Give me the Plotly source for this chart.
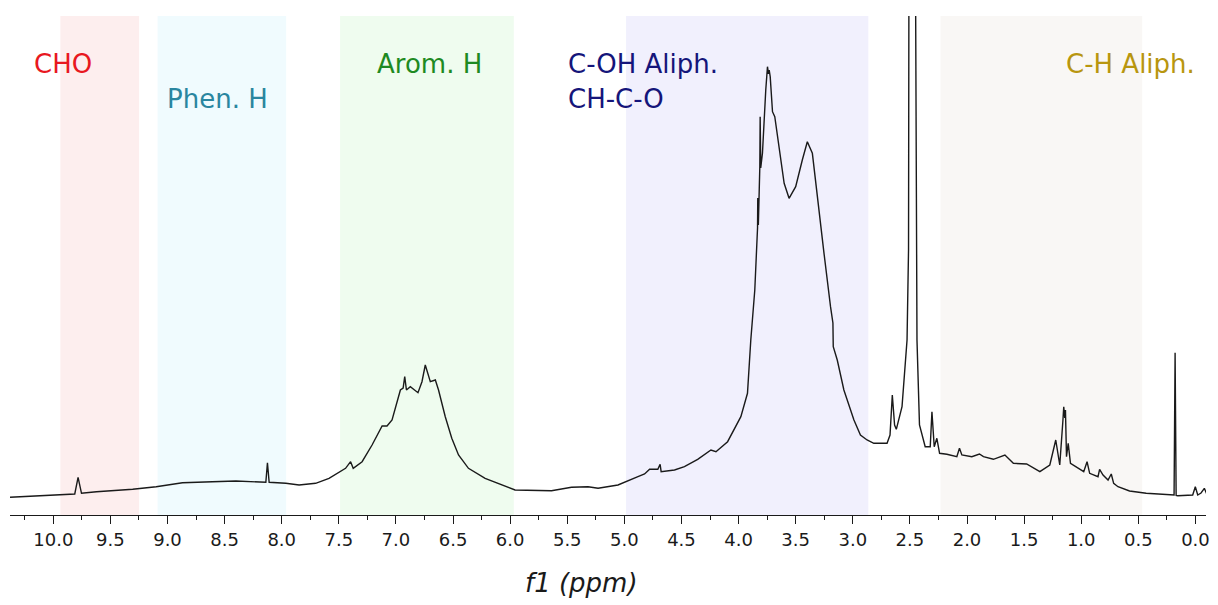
import plotly.graph_objects as go

# ---- data (ppm, intensity in arbitrary units) ----
ppm = [10.379, 9.942, 9.812, 9.783, 9.753, 9.622, 9.305, 9.099, 8.869, 8.607,
       8.401, 8.139, 8.125, 8.110, 7.964, 7.848, 7.703, 7.586, 7.441, 7.397,
       7.374, 7.296, 7.209, 7.121, 7.078, 7.034, 6.961, 6.937, 6.923, 6.908,
       6.874, 6.807, 6.772, 6.743, 6.729, 6.699, 6.655, 6.627, 6.568, 6.511,
       6.452, 6.365, 6.219, 6.074, 5.957, 5.638, 5.463, 5.318, 5.230, 5.056,
       4.940, 4.881, 4.823, 4.779, 4.707, 4.687, 4.678, 4.561, 4.474, 4.358,
       4.242, 4.198, 4.096, 3.980, 3.922, 3.893, 3.858, 3.837, 3.834, 3.832,
       3.827, 3.814, 3.811, 3.806, 3.791, 3.762, 3.747, 3.738, 3.732, 3.723,
       3.703, 3.683, 3.645, 3.601, 3.558, 3.500, 3.442, 3.398, 3.354, 3.311,
       3.252, 3.195, 3.174, 3.171, 3.136, 3.078, 2.990, 2.933, 2.875, 2.816,
       2.700, 2.674, 2.654, 2.634, 2.619, 2.569, 2.525, 2.512, 2.502, 2.477,
       2.453, 2.438, 2.416, 2.366, 2.322, 2.307, 2.287, 2.264, 2.240, 2.176,
       2.089, 2.066, 2.045, 1.958, 1.891, 1.856, 1.769, 1.668, 1.594, 1.478,
       1.362, 1.275, 1.223, 1.188, 1.160, 1.153, 1.144, 1.138, 1.129, 1.114,
       1.094, 1.042, 0.978, 0.949, 0.926, 0.853, 0.839, 0.809, 0.765, 0.737,
       0.716, 0.678, 0.577, 0.431, 0.228, 0.187, 0.178, 0.169, 0.155, 0.024,
       0.001, -0.020, -0.049, -0.078, -0.099]
intensity = [17.7, 20, 21, 37.7, 21.7, 23.3, 25.7, 28.3, 32.3, 33.3,
             34, 32.7, 52.3, 32.7, 31.7, 30, 31.7, 36.7, 46.7, 53.3,
             46.7, 53.3, 70, 89, 89, 95, 125, 127, 138.3, 125,
             128.3, 122.3, 133.3, 150, 145, 133.3, 135, 125, 98.3, 76.7,
             60, 46.7, 36.7, 30, 25, 24.3, 27.7, 28.3, 26.7, 30,
             35, 38.3, 41, 45.7, 45.7, 50.7, 43.3, 45, 48.3, 55.7,
             65, 63.3, 73.3, 98.3, 121.7, 175, 225, 275, 287, 317,
             290, 348.3, 398.3, 347, 361.7, 425, 448.3, 441, 445, 438.3,
             403.3, 398.3, 365, 331.7, 316.7, 328.3, 355, 373.3, 361.7, 318.3,
             261.7, 208.3, 192, 168.3, 155, 125, 95, 80, 75, 71.7,
             71.7, 80, 120, 90, 85.7, 108.3, 175, 265, 600, 3000,
             600, 175, 90, 68.3, 68.3, 103.3, 68.3, 76.7, 61.7, 60.7,
             58.3, 66.7, 60, 58.3, 61, 58.3, 55.7, 60, 51.7, 51,
             43.3, 50, 75, 50, 95, 108.3, 97, 105, 58.3, 71.7,
             51.7, 48.3, 43.3, 53.3, 41.7, 38.3, 45.7, 40, 35, 41,
             31.7, 28.3, 24, 21.7, 20, 20, 162.3, 19.5, 19.3, 20,
             28.3, 20, 22, 26.7, 21]

region_names = ["CHO", "Phen. H", "Arom. H", "C-OH Aliph.", "C-H Aliph."]
region_start = [9.938, 9.087, 7.489, 4.985, 2.232]
region_end = [9.249, 7.961, 5.968, 2.864, 0.466]
region_fill = ["#fdeeee", "#f0fbfe", "#effcef", "#f1f0fd", "#f9f7f5"]

tick_vals = [10.0, 9.5, 9.0, 8.5, 8.0, 7.5, 7.0, 6.5, 6.0, 5.5, 5.0,
             4.5, 4.0, 3.5, 3.0, 2.5, 2.0, 1.5, 1.0, 0.5, 0.0]
tick_text = [f"{v:.1f}" for v in tick_vals]

# labels: (text, left ppm, y, colour)
label_text = ["CHO", "Phen. H", "Arom. H", "C-OH Aliph.", "CH-C-O", "C-H Aliph."]
label_x = [10.187, 9.026, 7.181, 5.510, 5.510, 1.147]
label_y = [451, 416, 451, 451, 416, 451]
label_color = ["#e8181f", "#2a86a0", "#1e8a22", "#15157a", "#15157a", "#b8960f"]

FONT = "DejaVu Sans, Verdana, sans-serif"

fig = go.Figure()
fig.add_trace(go.Scatter(x=ppm, y=intensity, mode="lines",
                         line=dict(color="#1a1a1a", width=1.4),
                         hoverinfo="skip", showlegend=False))

for s, e, c in zip(region_start, region_end, region_fill):
    fig.add_shape(type="rect", xref="x", yref="paper", x0=s, x1=e, y0=0, y1=1,
                  fillcolor=c, line=dict(width=0), layer="below")

for t, x, y, c in zip(label_text, label_x, label_y, label_color):
    fig.add_annotation(x=x, y=y, xref="x", yref="y", text=t, showarrow=False,
                       xanchor="left", yanchor="middle",
                       font=dict(family=FONT, size=26, color=c))

fig.add_annotation(x=0.478, y=-0.137, xref="paper", yref="paper",
                   text="<i>f1 (ppm)</i>", showarrow=False,
                   xanchor="center", yanchor="middle",
                   font=dict(family=FONT, size=26, color="#1a1a1a"))

fig.update_layout(
    width=1218, height=605,
    margin=dict(l=10, r=8, t=16, b=90),
    plot_bgcolor="white", paper_bgcolor="white",
    xaxis=dict(range=[10.379, -0.0925], showgrid=False, zeroline=False,
               showline=True, linecolor="#1a1a1a", linewidth=1,
               ticks="outside", ticklen=8, tickwidth=1, tickcolor="#1a1a1a",
               tickvals=tick_vals, ticktext=tick_text,
               tickfont=dict(family=FONT, size=18, color="#1a1a1a"),
               minor=dict(dtick=0.25, tick0=0, ticks="outside", ticklen=4,
                          tickwidth=1, tickcolor="#1a1a1a", showgrid=False)),
    yaxis=dict(range=[0, 499], visible=False, showgrid=False, zeroline=False),
)

fig.write_html("out.html")
